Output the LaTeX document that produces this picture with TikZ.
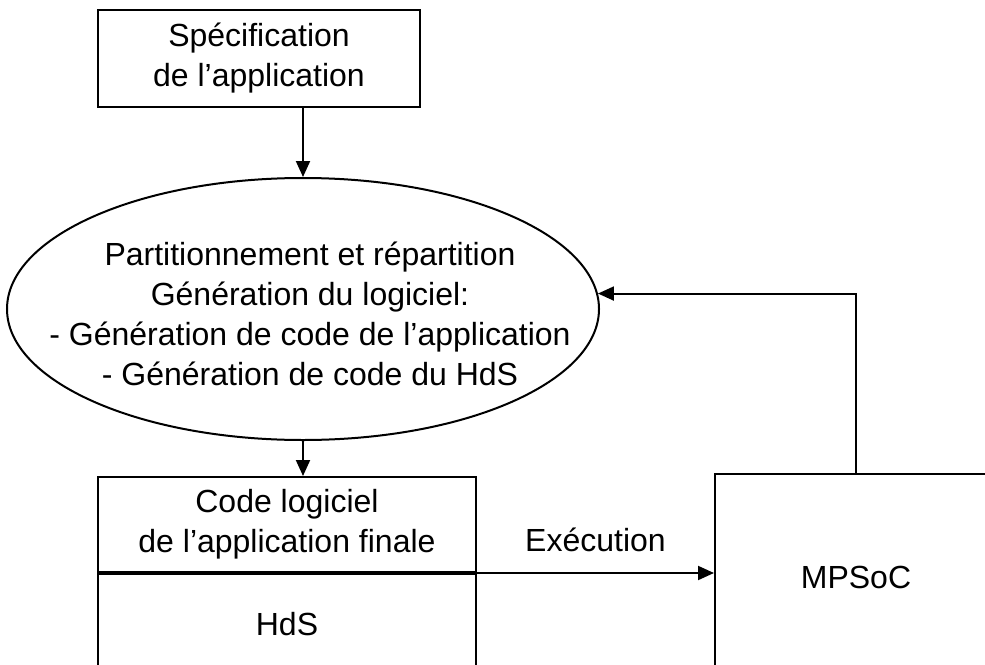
\documentclass[tikz,border=0pt]{standalone}
\usepackage{fontspec}
\setmainfont{Liberation Sans}
\usetikzlibrary{arrows.meta}
\usetikzlibrary{shapes.geometric}
\usetikzlibrary{positioning}
\tikzset{blk/.style = {draw, line width=1pt, inner sep=0pt, align=center},
         fl/.style = {line width=1pt, -{Triangle[length=8pt, width=7pt]}}}

\begin{document}
\begin{tikzpicture}[x=0.5pt, y=-0.5pt, font=\fontsize{16pt}{20pt}\selectfont]
      \clip (0, 0) rectangle (985, 664);

      \node [blk, minimum width=161pt, minimum height=48.5pt] (spec) at (259, 58.5) {Spécification\\de l’application};

      \node [ellipse, draw, line width=1pt, minimum width=296pt, minimum height=131pt] (part) at (303, 309) {};
      \node [align=center] (parttxt) at (310, 314) {Partitionnement et répartition\\Génération du logiciel:\\- Génération de code de l’application\\- Génération de code du HdS};

      \node [blk, minimum width=189pt, minimum height=47.5pt] (code) at (287, 524.5) {Code logiciel\\de l’application finale};
      \node [blk, minimum width=189pt, minimum height=50pt, below=0pt of code] (hds) {HdS};

      \node [blk, minimum width=141pt, minimum height=103pt] (mpsoc) at (856, 577) {MPSoC};

      \draw [fl] (part.north |- spec.south) -- (part.north);
      \draw [fl] (part.south) -- (part.south |- code.north);
      \draw [fl] (code.south east) -- (code.south east -| mpsoc.west) node [pos=0.5, above=7pt] (exec) {Exécution};
      \draw [fl] (mpsoc.north) |- (part.3);
    \end{tikzpicture}
\end{document}
